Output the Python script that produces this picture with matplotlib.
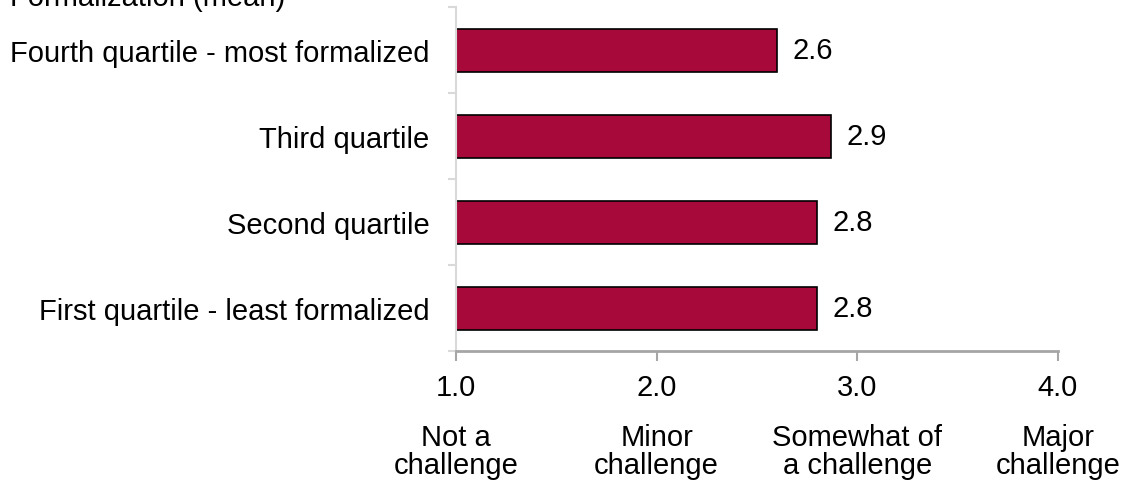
import numpy as np
import matplotlib.pyplot as plt

plt.rcParams['font.family'] = ['Liberation Sans', 'DejaVu Sans']

# datos de las barras (de abajo hacia arriba)
categorias = ["First quartile - least formalized", "Second quartile",
              "Third quartile", "Fourth quartile - most formalized"]
valores = [2.8, 2.8, 2.87, 2.6]
etiquetas_valor = ["2.8", "2.8", "2.9", "2.6"]

ticks_x = [1.0, 2.0, 3.0, 4.0]
ticks_txt = ["1.0", "2.0", "3.0", "4.0"]
escala_txt = ["Not a\nchallenge", "Minor\nchallenge", "Somewhat of\na challenge", "Major\nchallenge"]

titulo = "Formalization (mean)"

color_barra = "#A6093A"
gris = "#A6A6A6"
gris_claro = "#D9D9D9"
fs = 21

W, H = 1127, 485
fig = plt.figure(figsize=(W/100, H/100), dpi=100)
ax = fig.add_axes([456/W, (H-352)/H, (1058-456)/W, 344/H])

y = np.arange(len(categorias))
ax.barh(y, np.array(valores) - 1.0, left=1.0, height=0.5,
        color=color_barra, edgecolor="black", linewidth=1.2)

for yi, v, t in zip(y, valores, etiquetas_valor):
    ax.text(v + 0.075, yi, t, va="center", ha="left", fontsize=fs)

ax.set_xlim(1.0, 4.0)
ax.set_ylim(-0.5, 3.5)

# ejes
for s in ["top", "right"]:
    ax.spines[s].set_visible(False)
ax.spines["left"].set_color(gris_claro)
ax.spines["left"].set_linewidth(1.5)
ax.spines["bottom"].set_color(gris)
ax.spines["bottom"].set_linewidth(2)

ax.set_xticks(ticks_x)
ax.set_xticklabels([])
ax.tick_params(axis="x", direction="out", length=7, width=1.5, color=gris)

ax.set_yticks(y)
ax.set_yticklabels(categorias, fontsize=fs)
ax.tick_params(axis="y", length=0, pad=19)
ax.set_yticks(np.arange(-0.5, 4.0, 1.0), minor=True)
ax.tick_params(axis="y", which="minor", direction="out", length=6, width=1.5, color=gris_claro)

# etiquetas del eje x: numero y descripcion de la escala
tr = ax.get_xaxis_transform()
for xv, t in zip(ticks_x, ticks_txt):
    ax.text(xv, -(396-352)/344, t, transform=tr, ha="center", va="baseline", fontsize=fs)
for xv, t in zip(ticks_x, escala_txt):
    ax.text(xv, -(424-352)/344, t, transform=tr, ha="center", va="top", fontsize=fs,
            linespacing=1.0)

fig.text(10/W, 1 - 6/H, titulo, ha="left", va="baseline", fontsize=fs)

fig.savefig("out.png", dpi=100)
